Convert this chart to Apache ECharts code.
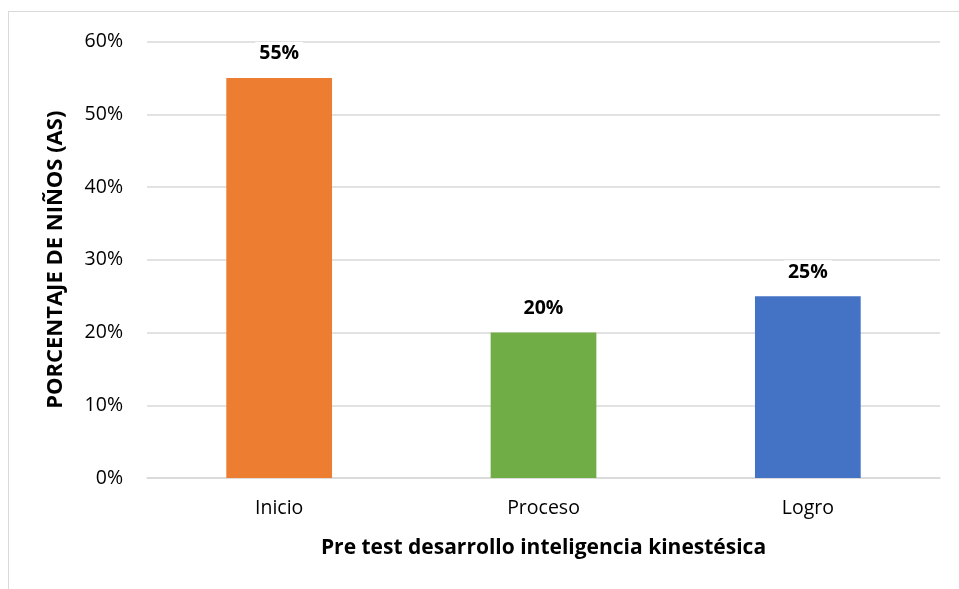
<!DOCTYPE html>
<html><head><meta charset="utf-8">
<script src="https://cdn.jsdelivr.net/npm/echarts@6/dist/echarts.min.js"></script>
<style>html,body{margin:0;padding:0;background:#fff}#c{width:959px;height:589px;position:relative}
#frame{position:absolute;left:8px;top:11px;right:0;bottom:0;border-left:1.5px solid #d9d9d9;border-top:1.5px solid #d9d9d9;pointer-events:none}</style>
</head><body><div id="c"></div><div id="frame"></div>
<script>
const categories = ['Inicio', 'Proceso', 'Logro'];
const values = [55, 20, 25];
const barColors = ['#ED7D31', '#70AD47', '#4472C4'];
const yTicks = [0, 10, 20, 30, 40, 50, 60];
const xTitle = 'Pre test desarrollo inteligencia kinestésica';
const yTitle = 'PORCENTAJE DE NIÑOS (AS)';
const FONT = 'Open Sans';
const chart = echarts.init(document.getElementById('c'));
chart.setOption({
  animation: false,
  textStyle: {fontFamily: FONT},
  grid: {left: 147, right: 19, top: 41.5, bottom: 111},
  xAxis: {
    type: 'category', data: categories,
    name: xTitle, nameLocation: 'middle', nameGap: 60,
    nameTextStyle: {fontFamily: FONT, fontWeight: 'bold', fontSize: 21, color: '#000'},
    axisLine: {lineStyle: {color: '#d9d9d9', width: 1.5}},
    axisTick: {show: false},
    axisLabel: {fontFamily: FONT, fontSize: 19.5, color: '#000', margin: 20}
  },
  yAxis: {
    type: 'value', min: yTicks[0], max: yTicks[yTicks.length - 1], interval: 10,
    name: yTitle, nameLocation: 'middle', nameGap: 80, nameRotate: 90,
    nameTextStyle: {fontFamily: FONT, fontWeight: 'bold', fontSize: 22, color: '#000'},
    axisLine: {show: false}, axisTick: {show: false},
    axisLabel: {fontFamily: FONT, fontSize: 19.5, color: '#000', margin: 24, formatter: v => v + '%'},
    splitLine: {lineStyle: {color: '#d9d9d9', width: 1.5}}
  },
  series: [{
    type: 'bar', barWidth: '40%',
    data: values.map((v, i) => ({value: v, itemStyle: {color: barColors[i]}})),
    label: {show: true, position: 'top', distance: 12, formatter: p => p.value + '%',
      fontFamily: FONT, fontWeight: 'bold', fontSize: 19.5, color: '#000',
      backgroundColor: '#fff', padding: [2, 4]}
  }]
});
</script></body></html>
